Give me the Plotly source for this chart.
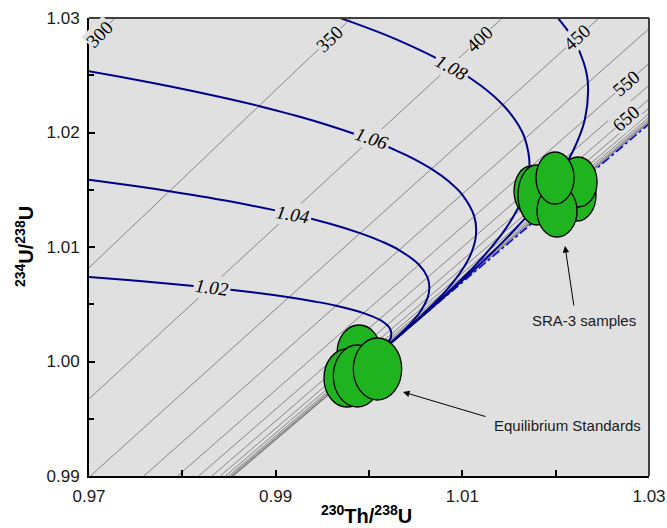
import plotly.graph_objects as go

# ---------------- data ----------------
# isochron (age) lines, ka: 230Th/238U at 234U/238U = 0.99 and 1.03
iso_ages = [300, 350, 400, 450, 500, 550, 600, 650, 700, 750, 800, 850, 900, 950, 1000]
iso_th_low = [0.92360, 0.94656, 0.961031, 0.970144, 0.975879, 0.979486, 0.981751, 0.983173,
              0.984064, 0.984621, 0.984969, 0.985187, 0.985322, 0.985404, 0.985457]
iso_th_high = [0.97280, 0.99811, 1.014290, 1.024651, 1.031294, 1.035563, 1.038311, 1.040084,
               1.041232, 1.041976, 1.042460, 1.042776, 1.042983, 1.043119, 1.043210]
iso_u_low = 0.99
iso_u_high = 1.03

# labelled isochrons: label, Th, U
iso_labels = ["300", "350", "400", "450", "550", "650"]
iso_label_th = [0.9711, 0.99582, 1.01189, 1.02229, 1.02754, 1.02754]
iso_label_u = [1.0286, 1.02822, 1.02820, 1.02827, 1.02428, 1.02118]
iso_label_angle = [-45, -44, -43, -42, -41, -41]

# initial 234U/238U evolution curves
g102_th = [0.94644, 0.956794, 0.965341, 0.96903, 0.975426, 0.982943, 0.987709, 0.99141, 0.994275,
           0.996477, 0.999429, 1.001079, 1.001934, 1.002309, 1.002339, 1.001606, 1.000956, 1.000417]
g102_u = [1.008566, 1.008096, 1.007651, 1.007437, 1.007029, 1.006457, 1.006017, 1.005606, 1.005224,
          1.004868, 1.004226, 1.003669, 1.003186, 1.002766, 1.002085, 1.001185, 1.000673, 1.000288]

g104_th = [0.95697, 0.966959, 0.97512, 0.978619, 0.984615, 0.991542, 0.995822, 0.99905, 1.001457,
           1.00322, 1.005354, 1.006267, 1.006466, 1.006262, 1.005335, 1.003315, 1.001929, 1.000834]
g104_u = [1.017133, 1.016191, 1.015301, 1.014875, 1.014057, 1.012915, 1.012034, 1.011213, 1.010448,
          1.009735, 1.008452, 1.007338, 1.006371, 1.005532, 1.00417, 1.002369, 1.001346, 1.000577]

g106_th = [0.952308, 0.967508, 0.977124, 0.984901, 0.988203, 0.993804, 1.000139, 1.003933, 1.006689,
           1.008638, 1.009964, 1.011279, 1.011456, 1.010999, 1.010214, 1.008331, 1.005026, 1.002902,
           1.001251]
g106_u = [1.027581, 1.025699, 1.024287, 1.022952, 1.022312, 1.021086, 1.019372, 1.01805, 1.016819,
          1.015671, 1.014603, 1.012678, 1.011008, 1.009557, 1.008297, 1.006254, 1.003554, 1.002019,
          1.000865]

g108_th = [0.987289, 0.99468, 0.997788, 1.002993, 1.008738, 1.012045, 1.01433, 1.015821, 1.016706,
           1.017203, 1.016644, 1.01553, 1.014167, 1.011327, 1.006736, 1.003875, 1.001668]
g108_u = [1.032382, 1.030602, 1.02975, 1.028114, 1.02583, 1.024067, 1.022426, 1.020895, 1.01947,
          1.016904, 1.014677, 1.012742, 1.011063, 1.008339, 1.004738, 1.002692, 1.001153]

g110_th = [1.017335, 1.020158, 1.021969, 1.023003, 1.02345, 1.023128, 1.021832, 1.020063, 1.01812,
           1.014324, 1.008447, 1.004849, 1.002086]
g110_u = [1.032287, 1.030084, 1.028032, 1.026119, 1.024338, 1.02113, 1.018346, 1.015928, 1.013829,
          1.010424, 1.005923, 1.003366, 1.001442]

curve_labels = ["1.02", "1.04", "1.06", "1.08"]
curve_label_th = [0.9832, 0.99186, 1.00032, 1.00889]
curve_label_u = [1.00643, 1.01280, 1.01952, 1.02572]
curve_label_angle = [7, 10, 19, 29]

# secular equilibrium line
eq_th = [1.0, 1.03]
eq_u = [1.0, 1.020741]

# error ellipses (centre, half-widths)
std_th = [0.99893, 0.99764, 0.99875, 1.00091]
std_u = [1.000742, 0.998559, 0.998734, 0.999345]
std_th_err = [0.002357, 0.002464, 0.002572, 0.002593]
std_u_err = [0.002445, 0.002533, 0.002707, 0.002707]

sra_th = [1.01736, 1.02229, 1.02240, 1.01795, 1.020144, 1.01993]
sra_u = [1.014891, 1.014541, 1.015677, 1.014541, 1.013144, 1.016026]
sra_th_err = [0.001822, 0.002036, 0.002036, 0.001982, 0.002143, 0.002036]
sra_u_err = [0.002183, 0.002271, 0.002183, 0.00262, 0.002271, 0.002271]

x_tickvals = [0.97, 0.98, 0.99, 1.00, 1.01, 1.02, 1.03]
x_ticktext = ["0.97", "", "0.99", "", "1.01", "", "1.03"]
y_tickvals = [0.99, 1.00, 1.01, 1.02, 1.03]
y_ticktext = ["0.99", "1.00", "1.01", "1.02", "1.03"]
y_minor = [0.995, 1.005, 1.015, 1.025]

# ---------------- figure ----------------
fig = go.Figure()

GRAY = "#858585"
NAVY = "#00008b"

for lo, hi in zip(iso_th_low, iso_th_high):
    fig.add_trace(go.Scatter(x=[lo, hi], y=[iso_u_low, iso_u_high], mode="lines",
                             line=dict(color=GRAY, width=1), hoverinfo="skip", showlegend=False))

fig.add_trace(go.Scatter(x=eq_th, y=eq_u, mode="lines",
                         line=dict(color="#0000ff", width=1.5, dash="dashdot"),
                         hoverinfo="skip", showlegend=False))

for cx, cy in [(g102_th, g102_u), (g104_th, g104_u), (g106_th, g106_u),
               (g108_th, g108_u), (g110_th, g110_u)]:
    fig.add_trace(go.Scatter(x=cx, y=cy, mode="lines",
                             line=dict(color=NAVY, width=2, shape="spline", smoothing=1.0),
                             hoverinfo="skip", showlegend=False))

shapes = []
ELL_FILL = "#20b320"
for tx, uy, ex, ey in zip(std_th, std_u, std_th_err, std_u_err):
    shapes.append(dict(type="circle", xref="x", yref="y", x0=tx - ex, x1=tx + ex,
                       y0=uy - ey, y1=uy + ey, fillcolor=ELL_FILL,
                       line=dict(color="black", width=1.3), layer="above"))
for tx, uy, ex, ey in zip(sra_th, sra_u, sra_th_err, sra_u_err):
    shapes.append(dict(type="circle", xref="x", yref="y", x0=tx - ex, x1=tx + ex,
                       y0=uy - ey, y1=uy + ey, fillcolor=ELL_FILL,
                       line=dict(color="black", width=1.3), layer="above"))
# top and right frame
shapes.append(dict(type="line", xref="paper", yref="paper", x0=0, x1=1, y0=1, y1=1,
                   line=dict(color="#404040", width=2)))
shapes.append(dict(type="line", xref="paper", yref="paper", x0=1, x1=1, y0=0, y1=1,
                   line=dict(color="#404040", width=2)))

annotations = []
for t, x, y, a in zip(iso_labels, iso_label_th, iso_label_u, iso_label_angle):
    annotations.append(dict(x=x, y=y, xref="x", yref="y", text=t, showarrow=False,
                            textangle=a, bgcolor="#e0e0e0", borderpad=0,
                            font=dict(family="Liberation Serif, Times New Roman, serif",
                                      size=19, color="black")))
for t, x, y, a in zip(curve_labels, curve_label_th, curve_label_u, curve_label_angle):
    annotations.append(dict(x=x, y=y, xref="x", yref="y", text="<i>" + t + "</i>",
                            showarrow=False, textangle=a, bgcolor="#e0e0e0", borderpad=1,
                            font=dict(family="Liberation Serif, Times New Roman, serif",
                                      size=19, color="black")))

# arrows
annotations.append(dict(x=1.02100, y=1.010087, xref="x", yref="y", ax=1.02197, ay=1.004760,
                        axref="x", ayref="y", text="", showarrow=True, arrowhead=2,
                        arrowsize=1.3, arrowwidth=1, arrowcolor="black"))
annotations.append(dict(x=1.003644, y=0.997336, xref="x", yref="y", ax=1.012644, ay=0.995153,
                        axref="x", ayref="y", text="", showarrow=True, arrowhead=2,
                        arrowsize=1.3, arrowwidth=1, arrowcolor="black"))
annotations.append(dict(x=1.02304, y=1.003624, xref="x", yref="y", text="SRA-3 samples",
                        showarrow=False,
                        font=dict(family="Liberation Sans, Arial, sans-serif", size=15,
                                  color="#1a1a1a")))
annotations.append(dict(x=1.021216, y=0.994454, xref="x", yref="y",
                        text="Equilibrium Standards", showarrow=False,
                        font=dict(family="Liberation Sans, Arial, sans-serif", size=15,
                                  color="#1a1a1a")))

# axis titles
annotations.append(dict(x=0.4964, y=-0.083, xref="paper", yref="paper",
                        text="<b><sup>230</sup>Th/<sup>238</sup>U</b>", showarrow=False,
                        xanchor="center", yanchor="middle",
                        font=dict(family="Liberation Sans, Arial, sans-serif", size=20,
                                  color="black")))
annotations.append(dict(x=-0.116, y=0.5, xref="paper", yref="paper",
                        text="<b><sup>234</sup>U/<sup>238</sup>U</b>", showarrow=False,
                        textangle=-90, xanchor="center", yanchor="middle",
                        font=dict(family="Liberation Sans, Arial, sans-serif", size=20,
                                  color="black")))

fig.update_layout(
    width=667, height=528,
    margin=dict(l=89, r=18, t=18, b=52),
    paper_bgcolor="white", plot_bgcolor="#e0e0e0",
    shapes=shapes, annotations=annotations, showlegend=False,
    font=dict(family="Liberation Sans, Arial, sans-serif", size=17, color="#1a1a1a"),
)
fig.update_xaxes(range=[0.97, 1.03], showgrid=False, zeroline=False, showline=True,
                 linecolor="black", linewidth=2, ticks="inside", ticklen=6, tickwidth=1.5,
                 tickcolor="black", tickvals=x_tickvals, ticktext=x_ticktext,
                 tickfont=dict(size=17), ticklabelstandoff=4, automargin=False)
fig.update_yaxes(range=[0.99, 1.03], showgrid=False, zeroline=False, showline=True,
                 linecolor="black", linewidth=2, ticks="inside", ticklen=6, tickwidth=1.5,
                 tickcolor="black", tickvals=y_tickvals, ticktext=y_ticktext,
                 tickfont=dict(size=17), ticklabelstandoff=4, automargin=False,
                 minor=dict(tickvals=y_minor, ticks="inside", ticklen=5, tickwidth=1.5,
                            tickcolor="black", showgrid=False))

fig.write_html("out.html", config={"displayModeBar": False},
               post_script="document.body.style.margin='0px';document.body.style.overflow='hidden';")
